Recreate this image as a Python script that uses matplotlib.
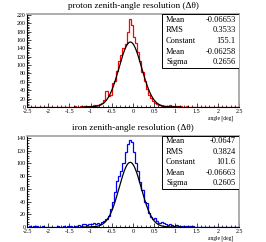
import numpy as np
import matplotlib
matplotlib.use('Agg')
import matplotlib.pyplot as plt
from matplotlib.patches import Rectangle
from matplotlib.ticker import MultipleLocator

plt.rcParams['font.family'] = ['Liberation Serif', 'DejaVu Serif']

edges = np.linspace(-2.5, 2.5, 101)

# proton counts per 0.05 deg bin
proton = [0, 0, 0, 0, 0, 1, 0, 1, 0, 0,
          0, 1, 0, 0, 1, 0, 1, 0, 1, 1,
          1, 0, 2, 1, 1, 2, 1, 2, 3, 2,
          3, 4, 5, 5, 7, 10, 17, 37, 27, 29,
          58, 63, 86, 110, 124, 142, 150, 180, 211, 196,
          168, 152, 132, 110, 84, 62, 42, 28, 21, 15,
          9, 6, 4, 3, 2, 3, 2, 4, 3, 2,
          3, 2, 3, 1, 1, 2, 1, 1, 0, 1,
          1, 0, 1, 0, 0, 1, 0, 1, 0, 0,
          0, 0, 0, 0, 0, 0, 0, 0, 0, 0]

iron = [0, 1, 0, 2, 1, 0, 0, 1, 0, 0,
        0, 0, 0, 0, 1, 0, 0, 1, 0, 1,
        1, 0, 1, 2, 3, 2, 4, 4, 3, 5,
        4, 6, 4, 6, 5, 8, 9, 12, 18, 28,
        40, 55, 72, 80, 88, 100, 118, 130, 136, 133,
        118, 100, 88, 70, 58, 40, 38, 22, 15, 12,
        14, 10, 6, 8, 6, 4, 3, 5, 3, 2,
        3, 2, 2, 1, 2, 1, 2, 1, 2, 0,
        0, 0, 0, 0, 0, 0, 0, 0, 0, 0,
        0, 0, 0, 0, 0, 0, 0, 0, 0, 0]

# stats box entries
proton_stats = [('Mean', '-0.06653'), ('RMS', '0.3533'), ('Constant', '155.1'),
                ('Mean', '-0.06258'), ('Sigma', '0.2656')]
iron_stats = [('Mean', '-0.0647'), ('RMS', '0.3824'), ('Constant', '101.6'),
              ('Mean', '-0.06663'), ('Sigma', '0.2605')]
proton_fit = (155.1, -0.06258, 0.2656)
iron_fit = (101.6, -0.06663, 0.2605)

fig = plt.figure(figsize=(2.66, 2.42), dpi=100)


def panel(rect, counts, color, fit, stats, title, ymax, ystep):
    ax = fig.add_axes(rect)
    ax.stairs(counts, edges, color=color, lw=0.9)
    const, mu, sig = fit
    xs = np.linspace(-1.2, 1.1, 300)
    ax.plot(xs, const * np.exp(-0.5 * ((xs - mu) / sig) ** 2), color='black', lw=0.9)
    ax.set_xlim(-2.5, 2.5)
    ax.set_ylim(0, ymax)
    ax.xaxis.set_minor_locator(MultipleLocator(0.1))
    ax.yaxis.set_major_locator(MultipleLocator(ystep))
    ax.yaxis.set_minor_locator(MultipleLocator(ystep / 5))
    ax.set_xticks(np.arange(-2.5, 2.51, 0.5))
    ax.set_xticklabels(['-2.5', '-2', '-1.5', '-1', '-0.5', '0', '0.5', '1', '1.5', '2', '2.5'])
    ax.tick_params(which='both', direction='in', labelsize=4.3, pad=1, width=0.5)
    ax.tick_params(which='major', length=3)
    ax.tick_params(which='minor', length=1.5)
    ax.tick_params(axis='x', pad=1.5)
    for s in ['top', 'right']:
        ax.spines[s].set_color('#a0a0a0')
        ax.spines[s].set_linewidth(1.2)
    for s in ['left', 'bottom']:
        ax.spines[s].set_linewidth(0.8)
    ax.text(0.975, -0.088, 'angle [deg]', transform=ax.transAxes, ha='right', va='top', fontsize=4)
    fig.text(0.5, rect[1] + rect[3] + 0.035, title, ha='center', va='center', fontsize=6.7)
    # stats box
    ax.add_patch(Rectangle((0.637, 0.42), 0.363, 0.58, transform=ax.transAxes,
                           facecolor='white', edgecolor='black', lw=0.7, zorder=5))
    for k, (name, val) in enumerate(stats):
        y = 0.94 - k * 0.115
        ax.text(0.656, y, name, transform=ax.transAxes, ha='left', va='center', fontsize=6, zorder=6)
        ax.text(0.985, y, val, transform=ax.transAxes, ha='right', va='center', fontsize=6, zorder=6)
    return ax


panel([0.1015, 0.558, 0.797, 0.384], proton, 'red', proton_fit, proton_stats,
      'proton zenith-angle resolution (\u0394\u03b8)', 222, 20)
panel([0.1015, 0.062, 0.797, 0.376], iron, 'blue', iron_fit, iron_stats,
      'iron zenith-angle resolution (\u0394\u03b8)', 143, 20)

fig.savefig('out.png', dpi=100)
